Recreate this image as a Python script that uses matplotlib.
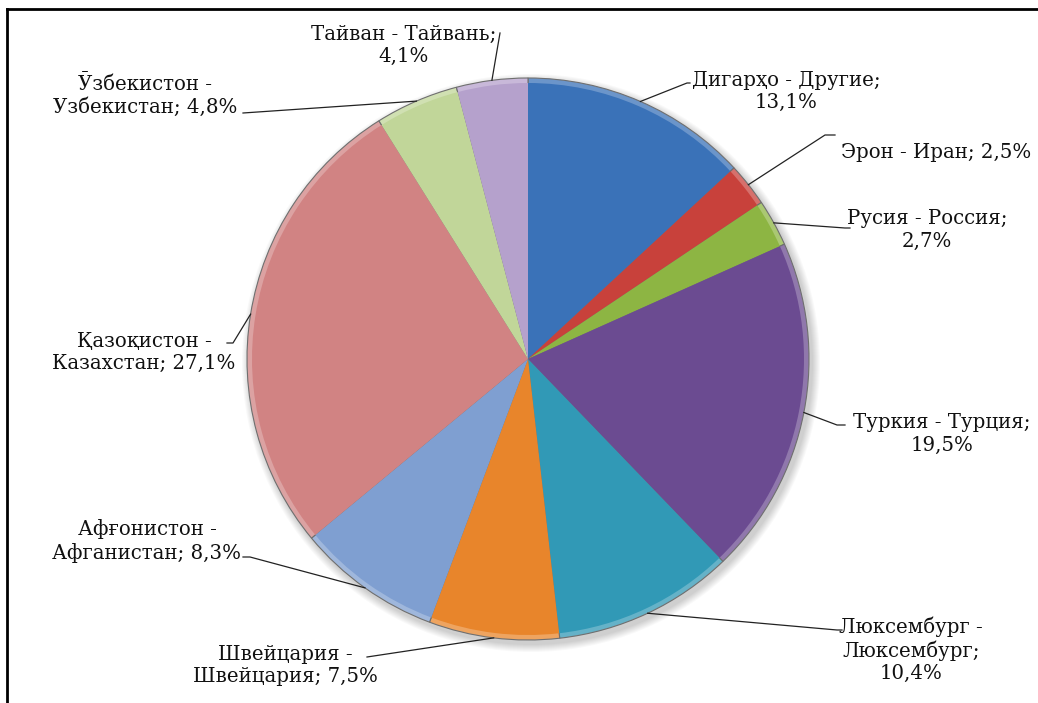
import numpy as np
import matplotlib
matplotlib.use("Agg")
import matplotlib.pyplot as plt
import matplotlib.colors as mcolors

plt.rcParams["font.family"] = ["DejaVu Serif", "Liberation Serif"]

# data (clockwise from 12 o'clock)
names = ["Дигарҳо - Другие", "Эрон - Иран", "Русия - Россия", "Туркия - Турция",
         "Люксембург - Люксембург", "Швейцария - Швейцария", "Афғонистон - Афганистан",
         "Қазоқистон - Казахстан", "Ӯзбекистон - Узбекистан", "Тайван - Тайвань"]
shares = [13.1, 2.5, 2.7, 19.5, 10.4, 7.5, 8.3, 27.1, 4.8, 4.1]
labels = ["Дигарҳо - Другие;\n13,1%", "Эрон - Иран; 2,5%", "Русия - Россия;\n2,7%",
          "Туркия - Турция;\n19,5%", "Люксембург -\nЛюксембург;\n10,4%",
          "Швейцария -\nШвейцария; 7,5%", "Афғонистон -\nАфганистан; 8,3%",
          "Қазоқистон -\nКазахстан; 27,1%", "Ӯзбекистон -\nУзбекистан; 4,8%",
          "Тайван - Тайвань;\n4,1%"]
colors = ["#3A72B8", "#C8413B", "#8DB543", "#6B4B91", "#3199B6", "#E8852B",
          "#7F9FD1", "#D18383", "#C1D699", "#B5A1CC"]

W, H = 1038, 703
fig = plt.figure(figsize=(W / 100, H / 100), dpi=100)
ax = fig.add_axes([0, 0, 1, 1])

cx, cy, R = 528, H - 359, 281

# soft shadow
for k in range(8):
    ax.add_patch(plt.Circle((cx + 3, cy - 4), R + 8 - k, color="#000000",
                            alpha=0.025, lw=0, zorder=0))

light = [mcolors.to_hex(0.75 * np.array(mcolors.to_rgb(c)) + 0.25) for c in colors]
ax.pie(shares, colors=light, startangle=90, counterclock=False, center=(cx, cy),
       radius=R, wedgeprops=dict(edgecolor="#6f6f6f", lw=0.8), frame=True)
ax.pie(shares, colors=colors, startangle=90, counterclock=False, center=(cx, cy),
       radius=R - 5, wedgeprops=dict(edgecolor="none", lw=0), frame=True)
ax.set_xlim(0, W); ax.set_ylim(0, H); ax.set_aspect("equal"); ax.axis("off")

# label placement: (text x, text y of block center, leader knee, leader end)
pos = [
    (786, 91, (687, 83), (690, 83)),
    (936, 152, (825, 135), (835, 135)),
    (927, 230, (845, 228), (850, 228)),
    (942, 434, (837, 425), (845, 425)),
    (911, 650, (837, 630), (842, 630)),
    (285, 665, (367, 657), (367, 657)),
    (147, 541, (250, 557), (243, 557)),
    (144, 352, (233, 343), (227, 343)),
    (145, 96, (243, 113), (243, 113)),
    (404, 45, (500, 33), (500, 33)),
]

cum = np.cumsum([0] + shares)
for i, (lab, (tx, ty, knee, end)) in enumerate(zip(labels, pos)):
    mid = (cum[i] + cum[i + 1]) / 2 / 100 * 2 * np.pi
    ax0, ay0 = cx + R * np.sin(mid), cy + R * np.cos(mid)
    ax.plot([ax0, knee[0], end[0]], [ay0, H - knee[1], H - end[1]],
            color="#222222", lw=0.9, zorder=5)
    ax.text(tx, H - ty, lab, ha="center", va="center", fontsize=14.2,
            linespacing=1.2, color="#111111", zorder=6)

# frame edges (top and left visible)
ax.plot([7, 7], [0, H - 9], color="black", lw=2)
ax.plot([7, W], [H - 9, H - 9], color="black", lw=2)

fig.savefig("out.png", dpi=100, facecolor="white")
